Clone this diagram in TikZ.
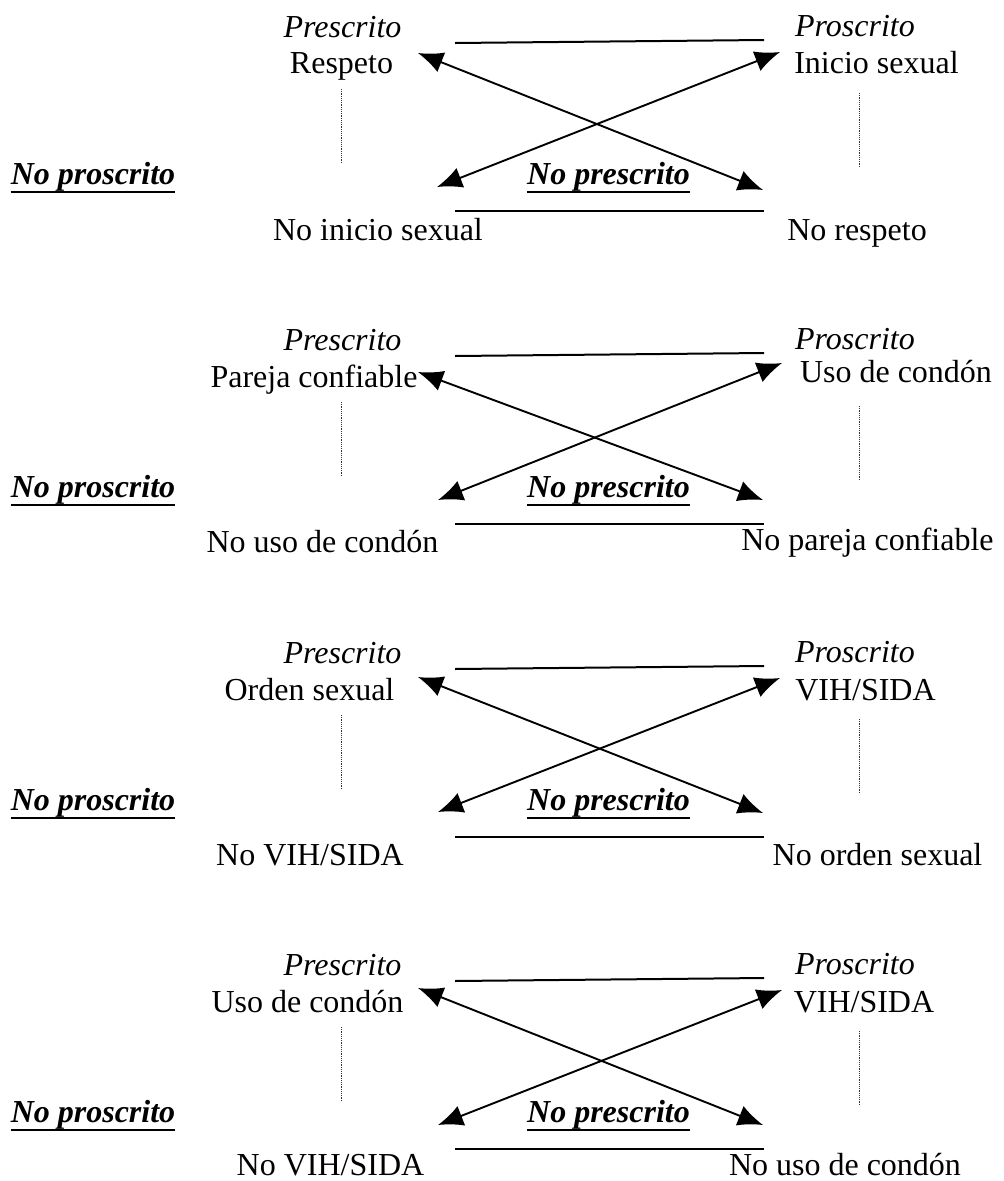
\documentclass[tikz,border=0pt]{standalone}
\usepackage{fontspec}
\setmainfont{Liberation Serif}
\usetikzlibrary{arrows.meta}

\tikzset{
  lbl/.style={inner sep=0pt, anchor=base, font=\fontsize{32}{38}\selectfont},
  tag/.style={lbl, font=\fontsize{32}{38}\selectfont\itshape},
  key/.style={lbl, font=\fontsize{32}{38}\selectfont\bfseries\itshape},
  rule/.style={line width=2pt},
  underbar/.style={line width=2.8pt},
  guide/.style={line width=0.9pt, dash pattern=on 1.1pt off 1.1pt, black!80},
  link/.style={line width=1.9pt,
    {Latex[length=25pt,width=21pt]}-{Latex[length=25pt,width=21pt]}},
}

% Parts shared by every square: headings, side labels, rules and guides
\newcommand\frameparts[1]{%
  \node[tag] (pre#1) at (342.5,37) {Prescrito};
  \node[tag] (pro#1) at (855,36) {Proscrito};
  \node[key] (npro#1) at (93,184) {No proscrito};
  \node[key] (npre#1) at (608.5,184) {No prescrito};
  \draw[underbar] ([yshift=-8pt]npro#1.base west) -- ([yshift=-8pt]npro#1.base east);
  \draw[underbar] ([yshift=-8pt]npre#1.base west) -- ([yshift=-8pt]npre#1.base east);
  \coordinate (tl#1) at (455,43);
  \coordinate (tr#1) at (764,40);
  \coordinate (bl#1) at (455,211);
  \coordinate (br#1) at (764,211);
  \draw[rule] (tl#1) -- (tr#1);
  \draw[rule] (bl#1) -- (br#1);
  \coordinate (gla#1) at (341,89);
  \coordinate (glb#1) at (341,163);
  \coordinate (gra#1) at (859,93);
  \coordinate (grb#1) at (859,167);
  \draw[guide] (gla#1) -- (glb#1);
  \draw[guide] (gra#1) -- (grb#1);
}

\begin{document}
\begin{tikzpicture}[x=1pt,y=-1pt]
\useasboundingbox (0,0) rectangle (1004,1181);

% Square 1
\begin{scope}
  \frameparts{1}
  \node[lbl] (ul1) at (341.5,73) {Respeto};
  \node[lbl] (ur1) at (876.5,73) {Inicio sexual};
  \node[lbl] (dl1) at (378,240) {No inicio sexual};
  \node[lbl] (dr1) at (857,240) {No respeto};
  \coordinate (aul1) at (418,53);
  \coordinate (aur1) at (780,52);
  \coordinate (adl1) at (437,187);
  \coordinate (adr1) at (763,190);
  \draw[link] (adl1) -- (aur1);
  \draw[link] (aul1) -- (adr1);
\end{scope}

% Square 2
\begin{scope}[yshift=-313pt]
  \frameparts{2}
  \node[lbl] (ul2) at (314,74) {Pareja confiable};
  \node[lbl] (ur2) at (896,69) {Uso de condón};
  \node[lbl] (dl2) at (322.5,239) {No uso de condón};
  \node[lbl] (dr2) at (867.5,237) {No pareja confiable};
  \coordinate (aul2) at (418,59);
  \coordinate (aur2) at (782,50);
  \coordinate (adl2) at (438,187);
  \coordinate (adr2) at (763,187);
  \draw[link] (adl2) -- (aur2);
  \draw[link] (aul2) -- (adr2);
\end{scope}

% Square 3
\begin{scope}[yshift=-626pt]
  \frameparts{3}
  \node[lbl] (ul3) at (309.5,74) {Orden sexual};
  \node[lbl] (ur3) at (865.5,74) {VIH/SIDA};
  \node[lbl] (dl3) at (310,239) {No VIH/SIDA};
  \node[lbl] (dr3) at (877.5,239) {No orden sexual};
  \coordinate (aul3) at (418,51);
  \coordinate (aur3) at (780,52);
  \coordinate (adl3) at (438,186);
  \coordinate (adr3) at (763,187);
  \draw[link] (adl3) -- (aur3);
  \draw[link] (aul3) -- (adr3);
\end{scope}

% Square 4
\begin{scope}[yshift=-938pt]
  \frameparts{4}
  \node[lbl] (ul4) at (307.5,74) {Uso de condón};
  \node[lbl] (ur4) at (864,74) {VIH/SIDA};
  \node[lbl] (dl4) at (330.5,237) {No VIH/SIDA};
  \node[lbl] (dr4) at (845,237) {No uso de condón};
  \coordinate (aul4) at (418,50);
  \coordinate (aur4) at (782,52);
  \coordinate (adl4) at (438,187);
  \coordinate (adr4) at (763,187);
  \draw[link] (adl4) -- (aur4);
  \draw[link] (aul4) -- (adr4);
\end{scope}
\end{tikzpicture}
\end{document}
